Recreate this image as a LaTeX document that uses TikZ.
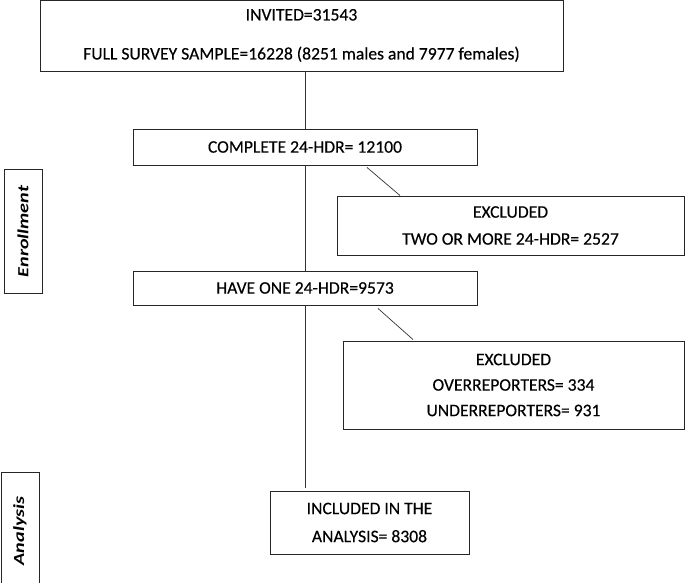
\documentclass[tikz,border=0pt]{standalone}
\usepackage{fontspec}
\setmainfont{Carlito}[FakeBold=0.3]
\newfontfamily\sidefont{Carlito}[FakeStretch=1.3]

\begin{document}
\begin{tikzpicture}[x=1pt,y=1pt,
				box/.style={draw=black!85,line width=0.9pt,inner sep=0pt,align=center,
					font=\fontsize{17.6}{27}\selectfont},
				side/.style={draw=black!85,line width=1pt,inner sep=0pt,rotate=90,
					font=\sidefont\fontsize{15.5}{18}\selectfont\bfseries\itshape},
				link/.style={draw=black!80,line width=0.7pt}]
				
				\useasboundingbox (0,0) rectangle (685,582);
				
				% Flow boxes
				\node[box,minimum width=523,minimum height=71,font=\fontsize{17.6}{39}\selectfont] (invited) at (301.5,546.5)
					{INVITED=31543\\FULL SURVEY SAMPLE=16228 (8251 males and 7977 females)};
				\node[box,minimum width=344,minimum height=36] (complete) at (305,435) {COMPLETE 24-HDR= 12100};
				\node[box,minimum width=347,minimum height=59] (excluded1) at (510.5,356.5)
					{EXCLUDED\\TWO OR MORE 24-HDR= 2527};
				\node[box,minimum width=344,minimum height=34] (haveone) at (305,294) {HAVE ONE 24-HDR=9573};
				\node[box,minimum width=341,minimum height=88,font=\fontsize{17.6}{25.5}\selectfont] (excluded2) at (513.5,197)
					{EXCLUDED\\OVERREPORTERS= 334\\UNDERREPORTERS= 931};
				\node[box,minimum width=199,minimum height=63,font=\fontsize{17.6}{28}\selectfont] (included) at (369.5,59.5)
					{INCLUDED IN THE\\ANALYSIS= 8308};
				
				% Stage labels
				\node[side,minimum width=123,minimum height=38] (enrollment) at (23,350.5) {Enrollment};
				\node[side,minimum width=118,minimum height=38] (analysis) at (20,51) {Analysis};
				
				% Connectors
				\draw[link] (complete.north |- invited.south) -- (complete.north);
				\draw[link] (complete.south) -- (haveone.north);
				\draw[link] ([xshift=62pt,yshift=-2pt]complete.south) -- ([xshift=-110.5pt]excluded1.north);
				\draw[link] (haveone.south) -- ([yshift=3pt]haveone.south |- included.north);
				\draw[link] ([xshift=73pt,yshift=-3pt]haveone.south) -- ([xshift=-100.5pt,yshift=1pt]excluded2.north);
			\end{tikzpicture}
\end{document}
